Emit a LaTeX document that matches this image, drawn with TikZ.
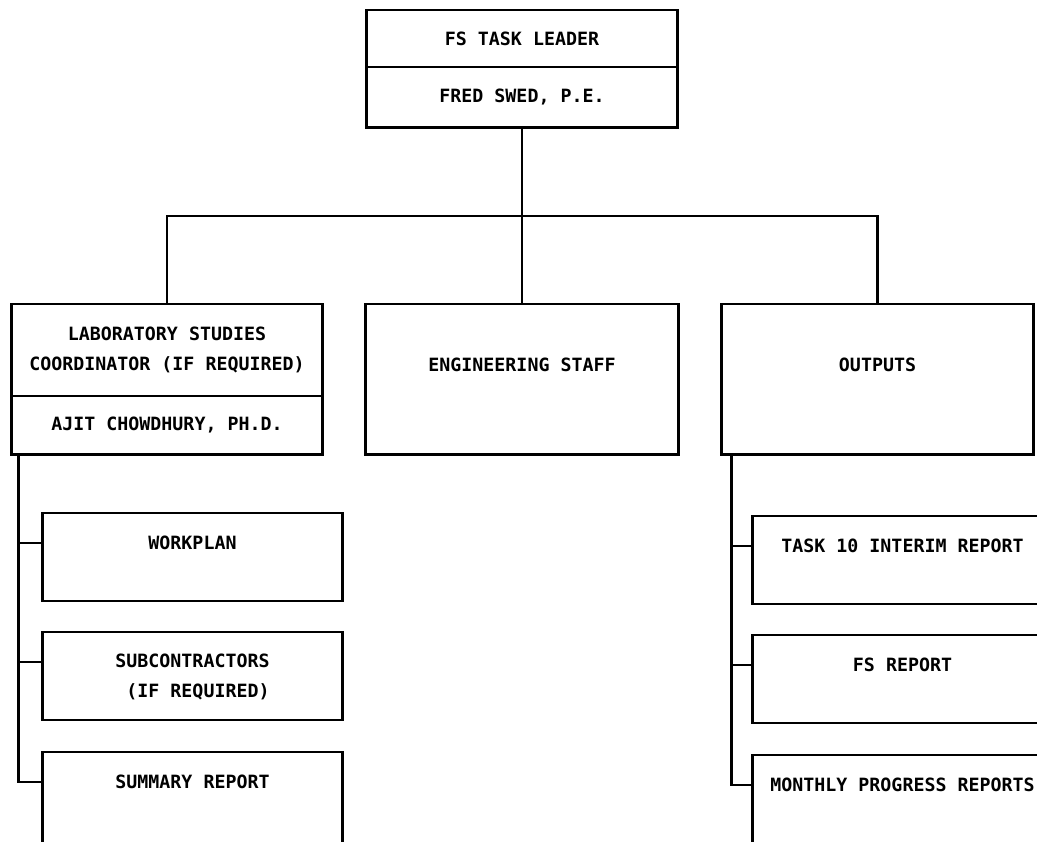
\documentclass[tikz,border=0pt]{standalone}
\usepackage{fontspec}
\newfontfamily\plotfont{DejaVu Sans Mono}
\usetikzlibrary{positioning}

\begin{document}
\begin{tikzpicture}[x=0.025cm, y=-0.025cm, line width=2.1pt,
  font=\plotfont\bfseries\fontsize{13}{21}\selectfont,
  orgbox/.style={draw, outer sep=0pt, inner sep=0pt, align=center},
  subbox/.style={orgbox, minimum width=7.475cm, minimum height=2.2cm}]

% Frame of the page (the sheet cuts the right and lower boxes)
\useasboundingbox (0,0) rectangle (1037,841);
\clip (0,0) rectangle (1037,841);

% Task leader
\node[orgbox, minimum width=7.75cm, minimum height=1.425cm] (lead) at (522,38.5) {FS TASK LEADER};
\node[orgbox, minimum width=7.75cm, minimum height=1.5cm, below=0pt of lead] (leadname) {FRED SWED, P.E.};

% Second row
\node[orgbox, minimum width=7.75cm, minimum height=2.3cm] (lab) at (167,350) {LABORATORY STUDIES\\COORDINATOR (IF REQUIRED)};
\node[orgbox, minimum width=7.75cm, minimum height=1.45cm, below=0pt of lab] (labname) {AJIT CHOWDHURY, PH.D.};
\node[orgbox, minimum width=7.825cm, minimum height=3.75cm] (eng) at (522,379) {};
\node (engtext) at ([yshift=-1.525cm]eng.north) {ENGINEERING STAFF};
\node[orgbox, minimum width=7.775cm, minimum height=3.75cm] (out) at (877.5,379) {};
\node (outtext) at ([yshift=-1.525cm]out.north) {OUTPUTS};

% Links from the task leader
\coordinate (split) at (522,216);
\draw (leadname) -- (split);
\draw (lab.north) |- (split) -| (out.north);
\draw (split) -- (eng.north);

% Laboratory branch
\node[subbox] (workplan) at (192.5,557) {};
\node (workplantext) at ([yshift=-0.75cm]workplan.north) {WORKPLAN};
\node[subbox] (subcon) at (192.5,676) {};
\node[align=left] (subcontext) at ([yshift=-1.125cm]subcon.north) {SUBCONTRACTORS\\\hphantom{S}(IF REQUIRED)};
\node[subbox, minimum height=2.75cm] (summary) at (192.5,807) {};
\node (summarytext) at ([yshift=-0.75cm]summary.north) {SUMMARY REPORT};

\coordinate (labtrunk) at ([xshift=0.175cm]labname.south west);
\draw (labtrunk) |- ([yshift=-0.75cm]workplan.north west);
\draw (labtrunk) |- ([yshift=-0.75cm]subcon.north west);
\draw (labtrunk) |- ([yshift=-0.75cm]summary.north west);

% Outputs branch
\node[subbox] (interim) at (902.5,560) {};
\node (interimtext) at ([yshift=-0.75cm]interim.north) {TASK 10 INTERIM REPORT};
\node[subbox] (fsreport) at (902.5,679) {};
\node (fsreporttext) at ([yshift=-0.75cm]fsreport.north) {FS REPORT};
\node[subbox, minimum height=2.75cm] (monthly) at (902.5,810) {};
\node (monthlytext) at ([yshift=-0.75cm]monthly.north) {MONTHLY PROGRESS REPORTS};

\coordinate (outtrunk) at ([xshift=0.25cm]out.south west);
\draw (outtrunk) |- ([yshift=-0.75cm]interim.north west);
\draw (outtrunk) |- ([yshift=-0.75cm]fsreport.north west);
\draw (outtrunk) |- ([yshift=-0.75cm]monthly.north west);

\end{tikzpicture}
\end{document}
